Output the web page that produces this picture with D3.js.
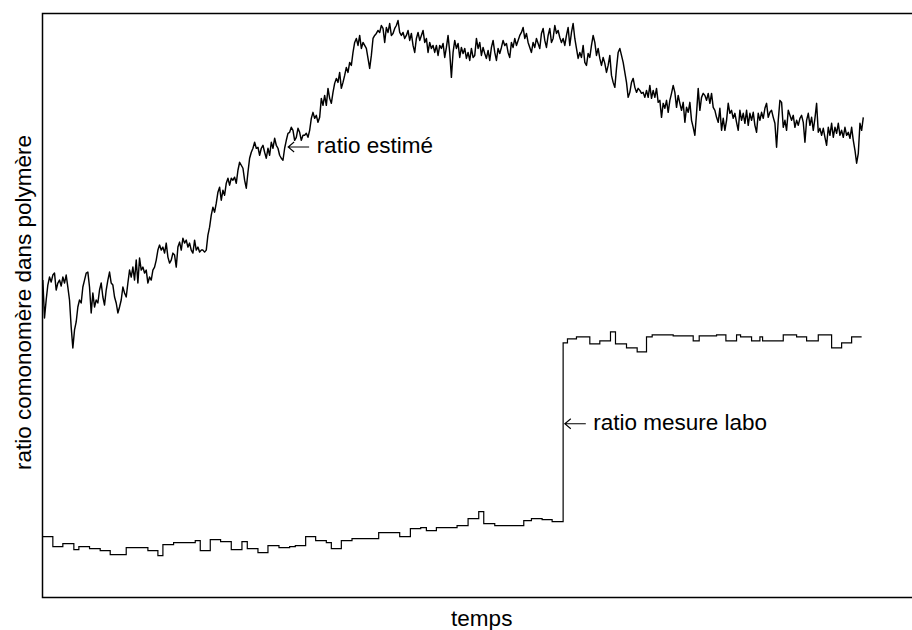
<!DOCTYPE html>
<html>
<head>
<meta charset="utf-8">
<script src="https://cdn.jsdelivr.net/npm/d3@7"></script>
<style>
  html, body { margin: 0; padding: 0; background: #ffffff; overflow: hidden; }
  svg { display: block; overflow: hidden; }
  text { font-family: "Liberation Sans", Arial, Helvetica, sans-serif; fill: #000; }
</style>
</head>
<body>
<svg id="chart" width="912" height="630"></svg>
<script>
// ---- data (time in sample units, ratio in arbitrary units) ----
const estStart = 0.2;   // time of first estimated sample
const estStep = 1;      // sampling interval
const estimated = [
  3.18,2.80,2.98,3.13,3.21,3.16,3.23,3.25,3.08,3.15,3.18,3.12,3.21,3.15,3.23,3.11,2.98,2.71,2.50,2.68,
  2.76,2.91,2.98,2.95,3.11,3.18,3.25,3.26,3.11,2.85,3.05,2.91,2.98,2.95,3.08,3.15,3.01,2.93,3.08,3.18,
  3.26,3.15,3.13,3.01,2.95,2.85,2.91,2.98,3.11,3.05,3.01,3.15,3.28,3.21,3.31,3.18,3.38,3.15,3.40,3.28,
  3.31,3.25,3.28,3.15,3.21,3.18,3.28,3.31,3.38,3.48,3.53,3.48,3.51,3.45,3.55,3.41,3.35,3.38,3.45,3.43,
  3.31,3.51,3.56,3.48,3.60,3.55,3.58,3.51,3.55,3.48,3.45,3.58,3.48,3.51,3.46,3.48,3.48,3.46,3.48,3.63,
  3.71,3.83,3.91,3.86,3.95,4.06,4.11,3.98,4.08,4.03,4.15,4.20,4.13,4.20,4.18,4.21,4.15,4.28,
  4.36,4.33,4.30,4.18,4.10,4.26,4.40,4.46,4.50,4.56,4.50,4.51,4.43,4.50,4.53,4.46,4.40,4.50,4.43,4.56,
  4.50,4.60,4.53,4.50,4.43,4.40,4.38,4.50,4.58,4.65,4.66,4.71,4.68,4.58,4.61,4.70,4.66,4.58,4.63,4.63,
  4.65,4.61,4.68,4.80,4.86,4.80,4.83,4.76,4.81,5.00,4.93,5.03,4.93,5.10,5.00,4.95,5.06,5.15,5.20,5.16,
  5.26,5.10,5.16,5.23,5.31,5.26,5.36,5.33,5.46,5.56,5.60,5.53,5.63,5.50,5.56,5.53,5.50,5.40,5.30,5.43,
  5.60,5.63,5.65,5.68,5.66,5.73,5.70,5.56,5.71,5.66,5.75,5.63,5.65,5.70,5.73,5.78,5.66,5.63,5.66,5.60,
  5.63,5.68,5.58,5.65,5.53,5.46,5.60,5.66,5.58,5.63,5.68,5.56,5.60,5.46,5.56,5.50,5.53,5.46,5.53,5.43,
  5.53,5.50,5.55,5.41,5.51,5.63,5.46,5.21,5.46,5.58,5.50,5.55,5.41,5.51,5.45,5.50,5.40,5.46,5.38,5.50,
  5.41,5.43,5.60,5.50,5.56,5.43,5.51,5.45,5.40,5.48,5.38,5.51,5.58,5.46,5.38,5.50,5.45,5.51,5.58,5.53,
  5.55,5.46,5.41,5.56,5.51,5.60,5.53,5.58,5.63,5.66,5.71,5.60,5.65,5.56,5.51,5.46,5.56,5.51,5.60,5.55,
  5.50,5.65,5.70,5.58,5.51,5.63,5.70,5.56,5.60,5.73,5.65,5.68,5.61,5.56,5.60,5.53,5.63,5.71,5.53,5.66,
  5.75,5.60,5.50,5.40,5.46,5.41,5.53,5.36,5.33,5.45,5.41,5.53,5.63,5.56,5.43,5.50,5.40,5.33,5.41,5.35,
  5.26,5.33,5.43,5.23,5.16,5.11,5.30,5.46,5.50,5.43,5.36,5.26,5.16,5.01,5.06,5.16,5.20,5.11,5.06,5.10,
  5.08,5.05,5.06,5.01,5.08,5.01,5.13,5.00,5.08,5.01,5.10,4.96,4.98,4.81,4.95,4.90,4.98,4.86,4.98,5.05,
  5.13,5.06,4.91,5.03,4.95,4.88,4.96,4.76,4.91,4.86,4.96,4.78,4.71,4.63,4.85,5.10,4.88,5.01,5.05,5.03,
  4.98,5.05,4.95,5.05,4.91,4.88,4.81,4.76,4.90,4.68,4.80,4.68,4.78,4.95,4.85,4.88,4.80,4.85,4.76,4.68,
  4.88,4.78,4.85,4.75,4.88,4.73,4.85,4.78,4.86,4.73,4.66,4.85,4.78,4.86,4.80,4.90,4.95,4.81,4.86,4.88,
  4.81,4.75,4.51,4.78,4.98,4.96,4.71,4.78,4.68,4.88,4.83,4.78,4.83,4.71,4.78,4.73,4.80,4.83,4.76,4.56,
  4.78,4.85,4.73,4.81,4.68,4.80,4.95,4.66,4.70,4.63,4.70,4.61,4.53,4.71,4.63,4.75,4.61,4.71,4.65,4.75,
  4.63,4.68,4.61,4.71,4.63,4.66,4.60,4.71,4.58,4.48,4.35,4.45,4.75,4.68,4.81
];

const labTime = [
  0, 6.2, 12.2, 18.8, 21.8, 28.2, 34.6, 40.6, 50.2, 63.2, 69.2, 72.2, 78.6, 91.6, 94.6, 100.6, 106.8,
  113.2, 119.6, 122.8, 129.2, 135.2, 141.8, 148.2, 151.6, 157.8, 163.8, 170.2, 173.2, 179.2, 185.6,
  201.6, 214.2, 220.6, 226.8, 230.2, 236.2, 248.6, 255.2, 261.6, 264.6, 271.2, 288.6, 293.2, 299.6,
  305.6, 312.2, 314.8, 320.2, 328.2, 334.2, 340.6, 343.6, 350.2, 356.6, 362.2, 365.6, 378.2, 390.2,
  393.8, 404.2, 409.8, 416.2, 418.6, 425.2, 430.2, 431.8, 444.2, 452.2, 458.2, 465.2, 473.2, 479.2, 485.2
];
const labValue = [
  0.61, 0.51, 0.54, 0.48, 0.51, 0.49, 0.47, 0.43, 0.50, 0.47, 0.42, 0.53, 0.55, 0.57, 0.47, 0.58, 0.56,
  0.48, 0.56, 0.49, 0.45, 0.52, 0.50, 0.51, 0.52, 0.61, 0.57, 0.55, 0.49, 0.57, 0.59,
  0.65, 0.61, 0.69, 0.70, 0.67, 0.70, 0.72, 0.79, 0.86, 0.74, 0.72, 0.77, 0.79, 0.78,
  0.76, 2.55, 2.59, 2.61, 2.54, 2.57, 2.66, 2.54, 2.50, 2.46, 2.61, 2.63, 2.62, 2.57,
  2.62, 2.63, 2.57, 2.63, 2.61, 2.57, 2.61, 2.57, 2.63, 2.61, 2.57, 2.63, 2.50, 2.55, 2.61
];
const labEnd = 491.2;

const timeDomain = [0, 526.8];
const ratioDomain = [0, 5.85];

const xTitle = "temps";
const yTitle = "ratio comonomère dans polymère";
const estLabel = "ratio estimé";
const labLabel = "ratio mesure labo";
const estArrowAt = [147.3, 4.513];   // arrow tip (time, ratio)
const labArrowAt = [313.2, 1.74];

// ---- drawing ----
const svg = d3.select("#chart");
const plot = { left: 42.5, top: 13.5, right: 921, bottom: 597.5 };

const x = d3.scaleLinear().domain(timeDomain).range([plot.left, plot.right]);
const y = d3.scaleLinear().domain(ratioDomain).range([plot.bottom, plot.top]);

// lab measurement (step)
const labData = labTime.map((t, i) => ({ t, v: labValue[i] }));
labData.push({ t: labEnd, v: labValue[labValue.length - 1] });
svg.append("path")
  .datum(labData)
  .attr("fill", "none")
  .attr("stroke", "#000")
  .attr("stroke-width", 1.2)
  .attr("d", d3.line().curve(d3.curveStepAfter).x(d => x(d.t)).y(d => y(d.v)));

// estimated
const estData = estimated.map((v, i) => ({ t: estStart + i * estStep, v }));
svg.append("path")
  .datum(estData)
  .attr("fill", "none")
  .attr("stroke", "#000")
  .attr("stroke-width", 1.45)
  .attr("stroke-linejoin", "round")
  .attr("d", d3.line().x(d => x(d.t)).y(d => y(d.v)));

// frame (right side lies beyond the visible area)
const W = +svg.attr("width");
svg.append("path")
  .attr("d", `M${W + 5},${plot.top} L${plot.left},${plot.top} L${plot.left},${plot.bottom} L${W + 5},${plot.bottom}`)
  .attr("fill", "none").attr("stroke", "#000").attr("stroke-width", 1.5);

const fs = "22.5px";
// annotations: arrow + text
function annotate(at, label) {
  const px = x(at[0]), py = y(at[1]);
  svg.append("path")
    .attr("d", `M${px + 21},${py} L${px},${py} M${px + 6},${py - 5} L${px},${py} L${px + 6},${py + 5}`)
    .attr("fill", "none").attr("stroke", "#000").attr("stroke-width", 1.1);
  svg.append("text").attr("x", px + 28.5).attr("y", py + 6.5)
    .style("font-size", fs).text(label);
}
annotate(estArrowAt, estLabel);
annotate(labArrowAt, labLabel);

// axis titles
svg.append("text")
  .attr("x", (plot.left + plot.right) / 2).attr("y", 626)
  .attr("text-anchor", "middle").style("font-size", fs).text(xTitle);
svg.append("text")
  .attr("transform", `translate(31,${(plot.top + plot.bottom) / 2 - 3}) rotate(-90)`)
  .attr("text-anchor", "middle").style("font-size", fs).text(yTitle);
</script>
</body>
</html>
